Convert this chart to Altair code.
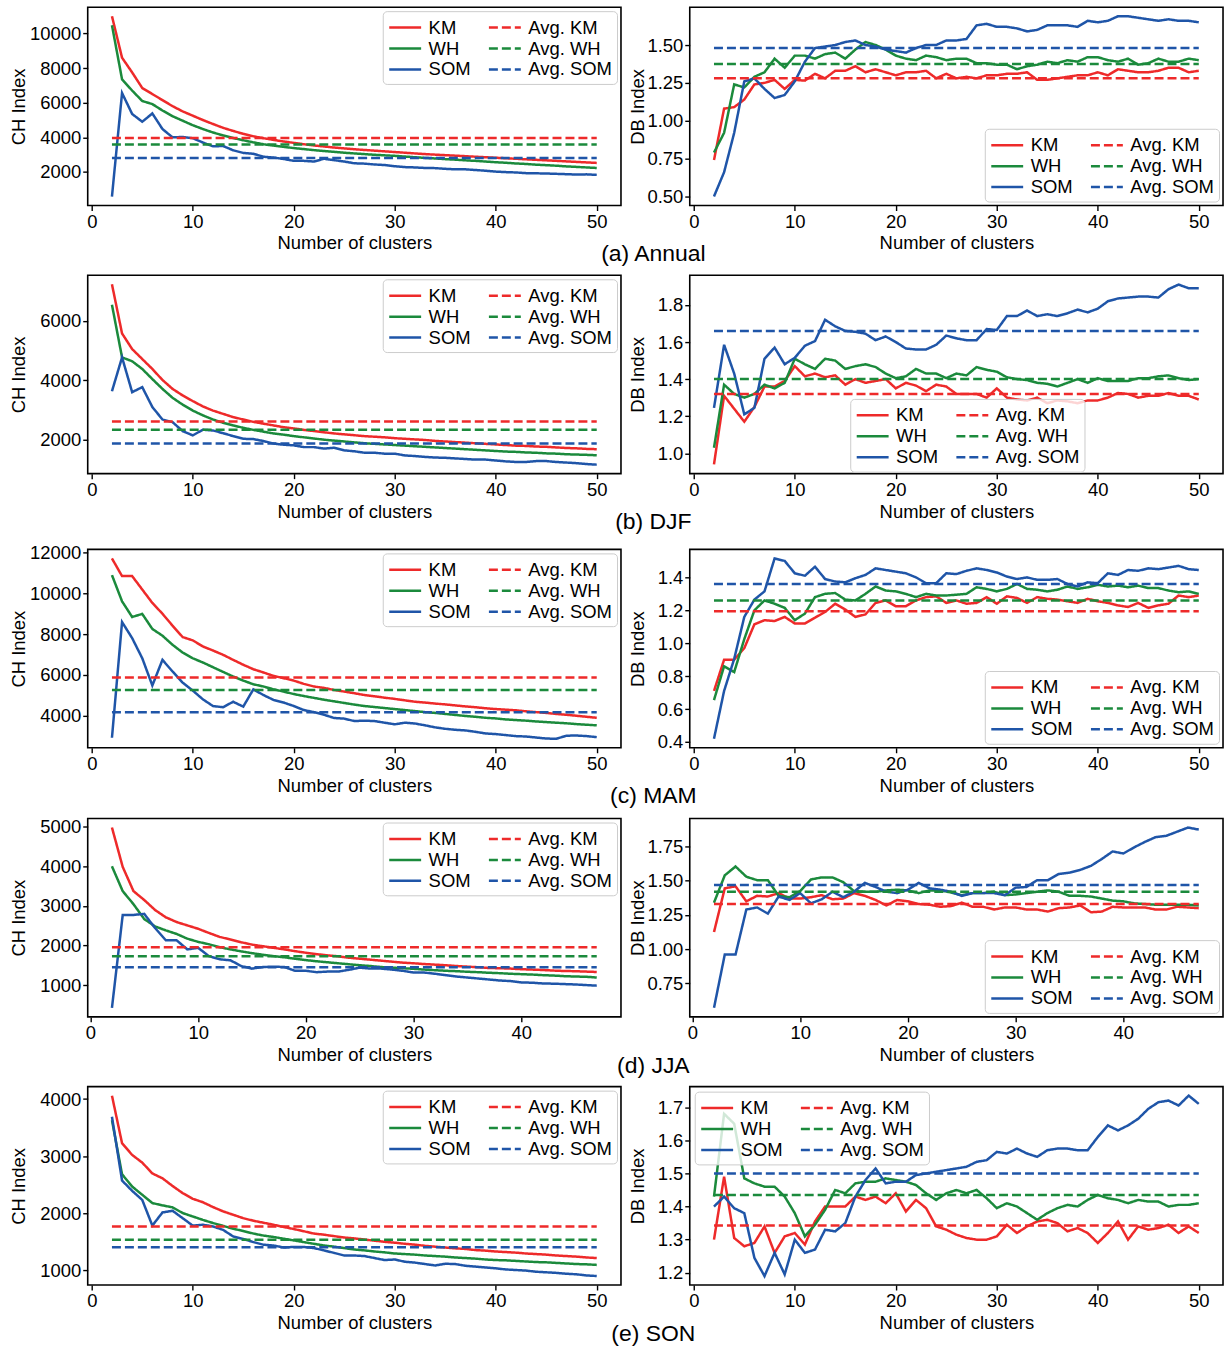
import altair as alt
import pandas as pd

# ---------------- data ----------------
X_FULL = list(range(2, 51))
X_JJA = list(range(2, 48))
SERIES = ["KM", "WH", "SOM"]
LEGEND_ORDER = ["KM", "WH", "SOM", "Avg. KM", "Avg. WH", "Avg. SOM"]
COLORS = ["#ee2a2a", "#1b8a3c", "#1f55a8", "#ee2a2a", "#1b8a3c", "#1f55a8"]
DASHES = [[1, 0], [1, 0], [1, 0], [9, 4], [9, 4], [9, 4]]
CAPTIONS = ["(a) Annual", "(b) DJF", "(c) MAM", "(d) JJA", "(e) SON"]

# (a) Annual
ANNUAL_CH_KM = [11000, 8600, 7750, 6850, 6500, 6150, 5800, 5500, 5250, 5000,
                4770, 4550, 4370, 4200, 4060, 3950, 3850, 3760, 3680, 3600,
                3530, 3470, 3410, 3360, 3310, 3270, 3230, 3190, 3150, 3110,
                3070, 3030, 3000, 2970, 2940, 2910, 2880, 2850, 2820, 2790,
                2760, 2730, 2700, 2670, 2640, 2610, 2580, 2550, 2520]
ANNUAL_CH_WH = [10480, 7350, 6700, 6100, 5920, 5550, 5220, 4960, 4700, 4480,
                4280, 4110, 3960, 3830, 3710, 3600, 3520, 3450, 3380, 3320,
                3260, 3210, 3160, 3110, 3070, 3030, 2990, 2960, 2930, 2890,
                2850, 2810, 2780, 2740, 2710, 2670, 2640, 2600, 2560, 2530,
                2490, 2460, 2420, 2390, 2360, 2320, 2290, 2260, 2230]
ANNUAL_CH_SOM = [580, 6560, 5350, 4900, 5380, 4480, 4000, 4020, 3950, 3700,
                 3480, 3500, 3250, 3100, 3050, 2880, 2830, 2750, 2640, 2640,
                 2600, 2760, 2680, 2600, 2500, 2480, 2430, 2400, 2330, 2280,
                 2260, 2230, 2220, 2180, 2150, 2150, 2110, 2070, 2020, 1990,
                 1970, 1930, 1920, 1910, 1890, 1870, 1850, 1860, 1830]
ANNUAL_CH_AVG = [3960, 3580, 2800]
ANNUAL_DB_KM = [0.74, 1.08, 1.09, 1.14, 1.24, 1.25, 1.27, 1.21, 1.27, 1.265,
                1.31, 1.28, 1.33, 1.33, 1.36, 1.32, 1.34, 1.32, 1.30, 1.32,
                1.32, 1.33, 1.28, 1.31, 1.28, 1.29, 1.28, 1.30, 1.30, 1.31,
                1.31, 1.32, 1.27, 1.27, 1.28, 1.29, 1.30, 1.30, 1.32, 1.30,
                1.34, 1.33, 1.32, 1.32, 1.33, 1.35, 1.35, 1.32, 1.33]
ANNUAL_DB_WH = [0.79, 0.92, 1.24, 1.22, 1.29, 1.32, 1.41, 1.35, 1.43, 1.43,
                1.41, 1.44, 1.45, 1.41, 1.47, 1.52, 1.50, 1.47, 1.43, 1.41,
                1.40, 1.43, 1.42, 1.40, 1.41, 1.41, 1.38, 1.38, 1.37, 1.37,
                1.34, 1.36, 1.37, 1.39, 1.38, 1.40, 1.39, 1.42, 1.42, 1.40,
                1.39, 1.41, 1.37, 1.38, 1.41, 1.39, 1.39, 1.41, 1.40]
ANNUAL_DB_SOM = [0.50, 0.66, 0.92, 1.26, 1.28, 1.21, 1.15, 1.17, 1.26, 1.39,
                 1.48, 1.49, 1.50, 1.52, 1.53, 1.50, 1.49, 1.47, 1.46, 1.45,
                 1.48, 1.50, 1.50, 1.53, 1.53, 1.54, 1.63, 1.64, 1.62, 1.62,
                 1.61, 1.59, 1.60, 1.63, 1.63, 1.63, 1.62, 1.66, 1.65, 1.66,
                 1.69, 1.69, 1.68, 1.67, 1.66, 1.67, 1.66, 1.66, 1.65]
ANNUAL_DB_AVG = [1.28, 1.375, 1.48]

# (b) DJF
DJF_CH_KM = [7230, 5575, 5050, 4715, 4380, 4010, 3710, 3490, 3300, 3120,
             2980, 2870, 2760, 2680, 2600, 2540, 2480, 2420, 2380, 2330,
             2290, 2250, 2210, 2180, 2150, 2120, 2100, 2080, 2050, 2030,
             2010, 1990, 1960, 1940, 1920, 1900, 1880, 1860, 1840, 1820,
             1800, 1790, 1770, 1760, 1740, 1720, 1710, 1690, 1680]
DJF_CH_WH = [6540, 4770, 4640, 4380, 4040, 3710, 3410, 3180, 2980, 2820,
             2680, 2570, 2480, 2400, 2330, 2270, 2210, 2170, 2120, 2080,
             2040, 2000, 1970, 1940, 1910, 1880, 1860, 1840, 1820, 1800,
             1780, 1760, 1740, 1720, 1700, 1680, 1660, 1640, 1620, 1600,
             1590, 1570, 1560, 1540, 1530, 1510, 1500, 1490, 1475]
DJF_CH_SOM = [3630, 4770, 3600, 3770, 3100, 2680, 2590, 2290, 2145, 2335,
              2310, 2220, 2120, 2030, 2020, 1955, 1870, 1830, 1810, 1750,
              1750, 1700, 1730, 1640, 1610, 1560, 1560, 1530, 1530, 1470,
              1450, 1420, 1400, 1390, 1370, 1350, 1330, 1330, 1300, 1270,
              1250, 1250, 1280, 1280, 1250, 1230, 1210, 1180, 1160]
DJF_CH_AVG = [2615, 2335, 1870]
DJF_DB_KM = [0.94, 1.31, 1.24, 1.17, 1.25, 1.36, 1.36, 1.39, 1.47, 1.415,
             1.43, 1.41, 1.42, 1.37, 1.40, 1.38, 1.39, 1.40, 1.35, 1.38,
             1.365, 1.335, 1.37, 1.36, 1.32, 1.32, 1.32, 1.30, 1.35, 1.30,
             1.29, 1.285, 1.30, 1.27, 1.285, 1.28, 1.27, 1.285, 1.285, 1.30,
             1.325, 1.32, 1.30, 1.31, 1.31, 1.325, 1.31, 1.31, 1.29]
DJF_DB_WH = [1.03, 1.37, 1.32, 1.30, 1.32, 1.37, 1.35, 1.38, 1.51, 1.48,
             1.455, 1.51, 1.50, 1.455, 1.47, 1.48, 1.465, 1.43, 1.405, 1.415,
             1.455, 1.43, 1.43, 1.405, 1.43, 1.42, 1.465, 1.45, 1.44, 1.41,
             1.40, 1.395, 1.38, 1.375, 1.36, 1.38, 1.40, 1.38, 1.405, 1.39,
             1.39, 1.39, 1.405, 1.405, 1.415, 1.42, 1.405, 1.395, 1.40]
DJF_DB_SOM = [1.245, 1.585, 1.43, 1.21, 1.245, 1.51, 1.57, 1.48, 1.515, 1.58,
              1.605, 1.72, 1.685, 1.66, 1.655, 1.645, 1.61, 1.63, 1.60, 1.565,
              1.56, 1.56, 1.585, 1.635, 1.62, 1.61, 1.61, 1.67, 1.665, 1.74,
              1.74, 1.77, 1.74, 1.75, 1.74, 1.755, 1.775, 1.76, 1.78, 1.82,
              1.835, 1.84, 1.845, 1.845, 1.84, 1.885, 1.91, 1.89, 1.89]
DJF_DB_AVG = [1.32, 1.40, 1.66]

# (c) MAM
MAM_CH_KM = [11720, 10850, 10850, 10190, 9530, 9000, 8410, 7850, 7690, 7390,
             7190, 6980, 6730, 6490, 6270, 6110, 5940, 5830, 5710, 5550,
             5420, 5350, 5250, 5170, 5090, 5000, 4940, 4870, 4810, 4740,
             4670, 4630, 4580, 4540, 4490, 4440, 4400, 4350, 4310, 4280,
             4250, 4200, 4160, 4120, 4070, 4030, 3980, 3930, 3880]
MAM_CH_WH = [10900, 9610, 8840, 8990, 8250, 7920, 7470, 7090, 6810, 6600,
             6370, 6140, 5910, 5710, 5530, 5420, 5280, 5170, 5050, 4950,
             4860, 4770, 4690, 4610, 4530, 4460, 4410, 4360, 4310, 4260,
             4210, 4160, 4120, 4070, 4020, 3970, 3930, 3880, 3850, 3800,
             3770, 3740, 3700, 3670, 3640, 3610, 3570, 3540, 3510]
MAM_CH_SOM = [2900, 8590, 7800, 6810, 5470, 6730, 6160, 5610, 5220, 4790,
              4460, 4400, 4670, 4430, 5280, 5000, 4760, 4630, 4460, 4260,
              4160, 4030, 3870, 3840, 3720, 3740, 3720, 3640, 3560, 3640,
              3600, 3510, 3410, 3340, 3290, 3260, 3190, 3110, 3080, 3030,
              2980, 2960, 2910, 2860, 2850, 3000, 3010, 2980, 2930]
MAM_CH_AVG = [5860, 5250, 4150]
MAM_DB_KM = [0.71, 0.90, 0.90, 0.97, 1.115, 1.14, 1.135, 1.16, 1.12, 1.12,
             1.155, 1.19, 1.24, 1.205, 1.16, 1.175, 1.245, 1.26, 1.225, 1.225,
             1.26, 1.28, 1.285, 1.245, 1.26, 1.24, 1.245, 1.28, 1.24, 1.285,
             1.275, 1.245, 1.28, 1.27, 1.265, 1.255, 1.245, 1.27, 1.255, 1.245,
             1.23, 1.22, 1.245, 1.215, 1.23, 1.24, 1.29, 1.28, 1.29]
MAM_DB_WH = [0.655, 0.86, 0.825, 1.025, 1.20, 1.26, 1.24, 1.215, 1.14, 1.18,
             1.28, 1.30, 1.305, 1.265, 1.26, 1.30, 1.345, 1.32, 1.315, 1.30,
             1.28, 1.30, 1.29, 1.29, 1.295, 1.30, 1.34, 1.33, 1.315, 1.33,
             1.36, 1.33, 1.325, 1.315, 1.325, 1.345, 1.33, 1.34, 1.355, 1.345,
             1.35, 1.34, 1.35, 1.335, 1.335, 1.32, 1.31, 1.315, 1.30]
MAM_DB_SOM = [0.42, 0.71, 0.905, 1.16, 1.265, 1.315, 1.515, 1.50, 1.425, 1.41,
              1.465, 1.39, 1.375, 1.37, 1.395, 1.415, 1.455, 1.445, 1.435, 1.425,
              1.40, 1.365, 1.365, 1.425, 1.42, 1.44, 1.455, 1.445, 1.43, 1.405,
              1.39, 1.40, 1.385, 1.385, 1.39, 1.36, 1.345, 1.37, 1.365, 1.425,
              1.415, 1.445, 1.44, 1.455, 1.45, 1.46, 1.47, 1.45, 1.445]
MAM_DB_AVG = [1.195, 1.26, 1.36]

# (d) JJA  (2..47 clusters)
JJA_CH_KM = [4975, 3980, 3370, 3145, 2895, 2710, 2590, 2505, 2420, 2315,
             2215, 2150, 2080, 2020, 1980, 1940, 1900, 1855, 1815, 1780,
             1750, 1725, 1690, 1665, 1640, 1615, 1590, 1565, 1550, 1530,
             1515, 1500, 1480, 1465, 1450, 1430, 1425, 1415, 1400, 1390,
             1380, 1365, 1355, 1350, 1340, 1330]
JJA_CH_WH = [3995, 3370, 3040, 2665, 2480, 2380, 2290, 2170, 2090, 2030,
             1955, 1900, 1850, 1805, 1765, 1730, 1700, 1665, 1630, 1600,
             1575, 1550, 1525, 1500, 1480, 1455, 1440, 1425, 1410, 1390,
             1375, 1360, 1350, 1335, 1325, 1310, 1300, 1285, 1275, 1265,
             1250, 1240, 1225, 1215, 1210, 1190]
JJA_CH_SOM = [425, 2770, 2770, 2795, 2440, 2130, 2130, 1900, 1940, 1730,
              1650, 1625, 1480, 1415, 1455, 1465, 1455, 1360, 1360, 1325,
              1340, 1340, 1385, 1440, 1415, 1415, 1390, 1360, 1315, 1315,
              1285, 1250, 1215, 1190, 1165, 1140, 1115, 1100, 1065, 1060,
              1040, 1035, 1025, 1015, 1000, 985]
JJA_CH_AVG = [1955, 1725, 1450]
JJA_DB_KM = [1.125, 1.445, 1.46, 1.35, 1.39, 1.385, 1.41, 1.37, 1.37, 1.38,
             1.395, 1.365, 1.37, 1.41, 1.39, 1.36, 1.32, 1.36, 1.35, 1.33,
             1.325, 1.31, 1.315, 1.34, 1.31, 1.31, 1.29, 1.305, 1.305, 1.29,
             1.29, 1.275, 1.30, 1.305, 1.32, 1.27, 1.275, 1.31, 1.305, 1.305,
             1.305, 1.29, 1.29, 1.31, 1.305, 1.30]
JJA_DB_WH = [1.34, 1.54, 1.605, 1.53, 1.505, 1.505, 1.39, 1.38, 1.425, 1.51,
             1.525, 1.525, 1.49, 1.425, 1.42, 1.42, 1.43, 1.435, 1.43, 1.41,
             1.43, 1.43, 1.415, 1.395, 1.41, 1.41, 1.42, 1.395, 1.40, 1.41,
             1.42, 1.43, 1.42, 1.39, 1.39, 1.385, 1.37, 1.355, 1.35, 1.335,
             1.33, 1.325, 1.325, 1.325, 1.325, 1.32]
JJA_DB_SOM = [0.57, 0.96, 0.96, 1.29, 1.305, 1.26, 1.385, 1.36, 1.41, 1.335,
              1.365, 1.42, 1.38, 1.42, 1.485, 1.455, 1.42, 1.41, 1.435, 1.485,
              1.445, 1.435, 1.42, 1.39, 1.41, 1.41, 1.41, 1.395, 1.45, 1.455,
              1.505, 1.505, 1.55, 1.56, 1.58, 1.61, 1.66, 1.715, 1.70, 1.745,
              1.785, 1.82, 1.83, 1.86, 1.89, 1.875]
JJA_DB_AVG = [1.33, 1.42, 1.47]

# (e) SON
SON_CH_KM = [4060, 3225, 3020, 2885, 2695, 2610, 2475, 2350, 2250, 2190,
             2105, 2030, 1970, 1910, 1865, 1830, 1795, 1755, 1720, 1680,
             1640, 1620, 1595, 1570, 1555, 1535, 1515, 1495, 1480, 1460,
             1445, 1425, 1410, 1395, 1380, 1370, 1350, 1340, 1325, 1315,
             1305, 1290, 1280, 1270, 1255, 1245, 1235, 1220, 1210]
SON_CH_WH = [3630, 2680, 2465, 2320, 2175, 2135, 2100, 2000, 1940, 1880,
             1825, 1775, 1725, 1685, 1640, 1605, 1580, 1550, 1520, 1490,
             1460, 1430, 1410, 1385, 1360, 1345, 1325, 1310, 1290, 1280,
             1270, 1255, 1245, 1235, 1220, 1210, 1200, 1185, 1175, 1170,
             1160, 1150, 1140, 1135, 1125, 1115, 1105, 1100, 1090]
SON_CH_SOM = [3690, 2570, 2390, 2230, 1780, 2010, 2040, 1910, 1780, 1795,
              1765, 1705, 1590, 1545, 1490, 1445, 1430, 1395, 1405, 1405,
              1385, 1345, 1300, 1255, 1255, 1245, 1210, 1175, 1185, 1145,
              1130, 1105, 1080, 1110, 1105, 1075, 1060, 1045, 1030, 1010,
              1000, 990, 970, 960, 950, 935, 925, 905, 895]
SON_CH_AVG = [1765, 1530, 1400]
SON_DB_KM = [1.30, 1.49, 1.305, 1.28, 1.29, 1.34, 1.26, 1.31, 1.32, 1.285,
             1.355, 1.40, 1.40, 1.40, 1.43, 1.42, 1.43, 1.41, 1.44, 1.385,
             1.42, 1.395, 1.34, 1.33, 1.315, 1.305, 1.30, 1.30, 1.31, 1.345,
             1.32, 1.34, 1.355, 1.36, 1.35, 1.325, 1.335, 1.32, 1.29, 1.32,
             1.355, 1.30, 1.34, 1.33, 1.335, 1.345, 1.32, 1.34, 1.32]
SON_DB_WH = [1.43, 1.68, 1.65, 1.485, 1.47, 1.46, 1.46, 1.43, 1.38, 1.31,
             1.345, 1.39, 1.45, 1.44, 1.47, 1.475, 1.475, 1.485, 1.48, 1.475,
             1.465, 1.44, 1.42, 1.44, 1.45, 1.44, 1.45, 1.425, 1.395, 1.41,
             1.40, 1.38, 1.36, 1.38, 1.395, 1.405, 1.40, 1.42, 1.435, 1.425,
             1.42, 1.41, 1.42, 1.415, 1.415, 1.40, 1.405, 1.405, 1.41]
SON_DB_SOM = [1.40, 1.43, 1.395, 1.38, 1.245, 1.19, 1.26, 1.195, 1.30, 1.26,
              1.27, 1.33, 1.325, 1.35, 1.43, 1.48, 1.515, 1.47, 1.475, 1.475,
              1.495, 1.50, 1.505, 1.51, 1.515, 1.52, 1.535, 1.54, 1.565, 1.56,
              1.575, 1.56, 1.55, 1.57, 1.575, 1.575, 1.57, 1.57, 1.61, 1.645,
              1.63, 1.645, 1.665, 1.695, 1.715, 1.72, 1.705, 1.735, 1.71]
SON_DB_AVG = [1.343, 1.435, 1.50]

# axis ticks per panel
CH_TICKS = [[2000, 4000, 6000, 8000, 10000], [2000, 4000, 6000],
            [4000, 6000, 8000, 10000, 12000], [1000, 2000, 3000, 4000, 5000],
            [1000, 2000, 3000, 4000]]
DB_TICKS = [[0.5, 0.75, 1.0, 1.25, 1.5], [1.0, 1.2, 1.4, 1.6, 1.8],
            [0.4, 0.6, 0.8, 1.0, 1.2, 1.4], [0.75, 1.0, 1.25, 1.5, 1.75],
            [1.2, 1.3, 1.4, 1.5, 1.6, 1.7]]
DB_FORMATS = [".2f", ".1f", ".1f", ".2f", ".1f"]
X_TICKS_FULL = [0, 10, 20, 30, 40, 50]
X_TICKS_JJA = [0, 10, 20, 30, 40]

# ---------------- layout ----------------
CH_DOMAINS = [[59, 11521], [857, 7533], [2407, 12163], [197, 5202], [737, 4218]]
DB_DOMAINS = [[0.44, 1.75], [0.89, 1.96], [0.365, 1.57], [0.504, 1.956], [1.163, 1.762]]
X_DOM_FULL = [-0.4, 52.4]
X_DOM_JJA = [-0.25, 49.25]
PW, PH = 535, 199

LEG_TR = dict(orient="top-right", offset=4)
LEG_BR = dict(orient="bottom-right", offset=4)
LEG_TL = dict(orient="top-left", offset=5)
RIGHT_LEGENDS = [LEG_BR, dict(orient="none", legendX=161, legendY=124), LEG_BR, LEG_BR, LEG_TL]


def make_frame(xs, km, wh, som, avg):
    rows = []
    for name, vals in zip(SERIES, (km, wh, som)):
        for x, v in zip(xs, vals):
            rows.append({"x": x, "v": v, "s": name})
    for name, a in zip(SERIES, avg):
        rows.append({"x": xs[0], "v": a, "s": "Avg. " + name})
        rows.append({"x": xs[-1], "v": a, "s": "Avg. " + name})
    return pd.DataFrame(rows)


def panel(df, xdom, xticks, ydom, yticks, yfmt, ytitle, left, legend_kw):
    legend = alt.Legend(title=None, columns=2, **legend_kw)
    ext = 56 if left else 40
    yaxis = alt.Axis(values=yticks, format=yfmt, title=ytitle,
                     minExtent=ext, maxExtent=ext,
                     titlePadding=3 if left else 2)
    return alt.Chart(df).mark_line(strokeWidth=2.5).encode(
        x=alt.X("x:Q", scale=alt.Scale(domain=xdom, nice=False, zero=False),
                axis=alt.Axis(values=xticks, format="d", title="Number of clusters")),
        y=alt.Y("v:Q", scale=alt.Scale(domain=ydom, nice=False, zero=False), axis=yaxis),
        color=alt.Color("s:N", scale=alt.Scale(domain=LEGEND_ORDER, range=COLORS),
                        legend=legend),
        strokeDash=alt.StrokeDash("s:N", scale=alt.Scale(domain=LEGEND_ORDER, range=DASHES),
                                  legend=legend),
    ).properties(width=PW, height=PH)


SEASONS = [
    (X_FULL, (ANNUAL_CH_KM, ANNUAL_CH_WH, ANNUAL_CH_SOM, ANNUAL_CH_AVG),
     (ANNUAL_DB_KM, ANNUAL_DB_WH, ANNUAL_DB_SOM, ANNUAL_DB_AVG)),
    (X_FULL, (DJF_CH_KM, DJF_CH_WH, DJF_CH_SOM, DJF_CH_AVG),
     (DJF_DB_KM, DJF_DB_WH, DJF_DB_SOM, DJF_DB_AVG)),
    (X_FULL, (MAM_CH_KM, MAM_CH_WH, MAM_CH_SOM, MAM_CH_AVG),
     (MAM_DB_KM, MAM_DB_WH, MAM_DB_SOM, MAM_DB_AVG)),
    (X_JJA, (JJA_CH_KM, JJA_CH_WH, JJA_CH_SOM, JJA_CH_AVG),
     (JJA_DB_KM, JJA_DB_WH, JJA_DB_SOM, JJA_DB_AVG)),
    (X_FULL, (SON_CH_KM, SON_CH_WH, SON_CH_SOM, SON_CH_AVG),
     (SON_DB_KM, SON_DB_WH, SON_DB_SOM, SON_DB_AVG)),
]

RES = dict(x="independent", y="independent", color="independent", strokeDash="independent")

rows = []
for i, (xs, ch, db) in enumerate(SEASONS):
    jja = xs is X_JJA
    xdom = X_DOM_JJA if jja else X_DOM_FULL
    xt = X_TICKS_JJA if jja else X_TICKS_FULL
    left = panel(make_frame(xs, *ch), xdom, xt, CH_DOMAINS[i], CH_TICKS[i], "d",
                 "CH Index", True, LEG_TR)
    right = panel(make_frame(xs, *db), xdom, xt, DB_DOMAINS[i], DB_TICKS[i], DB_FORMATS[i],
                  "DB Index", False, RIGHT_LEGENDS[i])
    row = alt.hconcat(left, right, spacing=6).resolve_scale(**RES).properties(
        title=alt.TitleParams(text=CAPTIONS[i], orient="bottom", anchor="middle",
                              frame="bounds", dx=37, offset=-10, fontSize=23,
                              fontWeight="normal", font="Liberation Sans", color="black"))
    rows.append(row)

chart = alt.vconcat(*rows, spacing=8).resolve_scale(**RES).properties(
    padding={"left": 9, "top": 4, "right": 5, "bottom": 2}
).configure(font="Liberation Sans").configure_view(
    stroke="black", strokeWidth=1.6
).configure_axis(
    grid=False, domain=False, tickColor="black", tickSize=5, tickWidth=1.4,
    labelFontSize=18.5, labelColor="black", labelFont="Liberation Sans",
    titleFontSize=18.5, titleFontWeight="normal", titleColor="black",
    titleFont="Liberation Sans", labelPadding=2, labelFlush=False
).configure_axisX(titlePadding=3).configure_legend(
    symbolType="M-1,0H2.2", symbolSize=400, symbolStrokeWidth=2.5,
    labelFontSize=18.5, labelFont="Liberation Sans", labelColor="black",
    padding=5, rowPadding=0, columnPadding=12, labelOffset=18,
    strokeColor="#cccccc", fillColor="rgba(255,255,255,0.8)", cornerRadius=4,
    labelLimit=300
)

chart.save("out.html", embed_options={"renderer": "svg", "actions": False})
